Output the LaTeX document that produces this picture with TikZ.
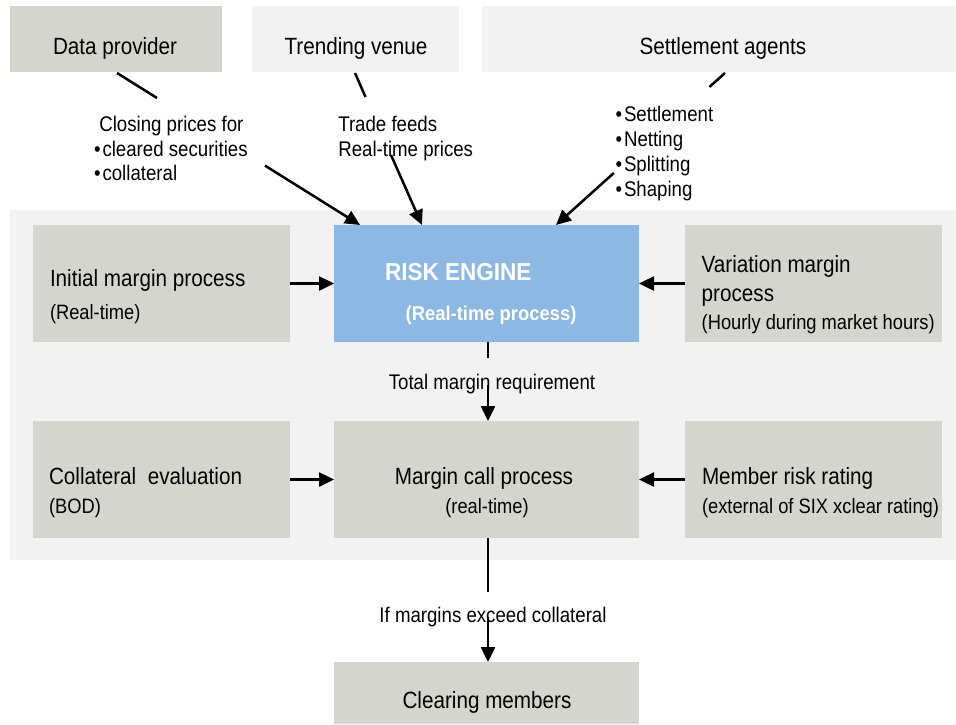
\documentclass[tikz,border=0pt]{standalone}
\usepackage{fontspec}
\setmainfont{Liberation Sans}
\newfontfamily\nfont[FakeStretch=0.88]{Liberation Sans}
\newfontfamily\bnfont[FakeStretch=0.92]{Liberation Sans}
\usetikzlibrary{arrows.meta}
\definecolor{boxgray}{RGB}{213,213,208}
\definecolor{panelgray}{RGB}{242,242,242}
\definecolor{engblue}{RGB}{142,184,228}
\begin{document}
\begin{tikzpicture}[x=1pt,y=-1pt,
  gbox/.style={rectangle, fill=boxgray, inner sep=0pt, outer sep=0pt, anchor=north west},
  lbox/.style={rectangle, fill=panelgray, inner sep=0pt, outer sep=0pt, anchor=north west},
  bbox/.style={rectangle, fill=engblue, inner sep=0pt, outer sep=0pt, anchor=north west},
  ptxt/.style={inner sep=0pt, outer sep=0pt, font=\nfont\fontsize{23.5pt}{28pt}\selectfont, text=black},
  stxt/.style={inner sep=0pt, outer sep=0pt, font=\nfont\fontsize{20.8pt}{25pt}\selectfont, text=black},
  ltxt/.style={inner sep=0pt, outer sep=0pt, font=\nfont\fontsize{21.2pt}{25pt}\selectfont, text=black},
  btxt/.style={inner sep=0pt, outer sep=0pt, font=\bnfont\bfseries\fontsize{24.5pt}{29pt}\selectfont, text=white},
  bstxt/.style={inner sep=0pt, outer sep=0pt, font=\bnfont\bfseries\fontsize{20pt}{24pt}\selectfont, text=white},
  ln/.style={line width=2.5pt, draw=black},
  arr/.style={line width=2.5pt, draw=black, -{Triangle[length=15pt,width=14pt]}}
]
\useasboundingbox (0,0) rectangle (956,724);
\fill[white] (0,0) rectangle (956,724);

% background panel
\node[lbox, minimum width=946pt, minimum height=350pt] (panel) at (10,210) {};

% top boxes
\node[gbox, minimum width=212pt, minimum height=66pt] (dp) at (10,6) {};
\node[lbox, minimum width=207pt, minimum height=66pt] (tv) at (252,6) {};
\node[lbox, minimum width=474pt, minimum height=66pt] (sa) at (482,6) {};

% middle row
\node[gbox, minimum width=257pt, minimum height=117pt] (im) at (33,225) {};
\node[bbox, minimum width=305pt, minimum height=117pt] (re) at (334,225) {};
\node[gbox, minimum width=257pt, minimum height=117pt] (vm) at (685,225) {};

% lower row
\node[gbox, minimum width=257pt, minimum height=117pt] (ce) at (33,421) {};
\node[gbox, minimum width=305pt, minimum height=117pt] (mc) at (334,421) {};
\node[gbox, minimum width=257pt, minimum height=117pt] (mr) at (685,421) {};

% bottom box
\node[gbox, minimum width=305pt, minimum height=62pt] (cm) at (334,662) {};

% texts in boxes
\node[ptxt, anchor=base west] (dpt) at (53,54.3) {Data provider};
\node[ptxt, anchor=base] (tvt) at (356,54.3) {Trending venue};
\node[ptxt, anchor=base] (sat) at (723,54.3) {Settlement agents};

\node[ptxt, anchor=base west] (imt1) at (50,286.7) {Initial margin process};
\node[stxt, anchor=base west] (imt2) at (50,319) {(Real-time)};

\node[btxt, anchor=base west] (ret1) at (385,280) {RISK ENGINE};
\node[bstxt, anchor=base west] (ret2) at (405.7,320.5) {(Real-time process)};

\node[ptxt, anchor=base west] (vmt1) at (701.7,272.7) {Variation margin};
\node[ptxt, anchor=base west] (vmt2) at (701.7,301.7) {process};
\node[stxt, anchor=base west] (vmt3) at (701.7,329.5) {(Hourly during market hours)};

\node[ptxt, anchor=base west] (cet1) at (49,484) {Collateral\ \ evaluation};
\node[stxt, anchor=base west] (cet2) at (49,513) {(BOD)};

\node[ptxt, anchor=base] (mct1) at (484,484) {Margin call process};
\node[stxt, anchor=base] (mct2) at (487,513) {(real-time)};

\node[ptxt, anchor=base west] (mrt1) at (702,484) {Member risk rating};
\node[stxt, anchor=base west] (mrt2) at (702,513) {(external of SIX xclear rating)};

\node[ptxt, anchor=base] (cmt) at (487,708) {Clearing members};

% connector labels
\node[ltxt, anchor=base west] (l1a) at (99.3,131.7) {Closing prices for};
\node[ltxt, anchor=base west] (l1b) at (94,156) {\textbullet\hspace{2pt}cleared securities};
\node[ltxt, anchor=base west] (l1c) at (94,180.5) {\textbullet\hspace{2pt}collateral};

\node[ltxt, anchor=base west] (l2a) at (338.3,131.7) {Trade feeds};
\node[ltxt, anchor=base west] (l2b) at (338.3,156) {Real-time prices};

\node[ltxt, anchor=base west] (l3a) at (615.5,121.7) {\textbullet\hspace{2pt}Settlement};
\node[ltxt, anchor=base west] (l3b) at (615.5,146.7) {\textbullet\hspace{2pt}Netting};
\node[ltxt, anchor=base west] (l3c) at (615.5,171.7) {\textbullet\hspace{2pt}Splitting};
\node[ltxt, anchor=base west] (l3d) at (615.5,196.7) {\textbullet\hspace{2pt}Shaping};

\node[ltxt, anchor=base] (l4) at (492,389) {Total margin requirement};
\node[ltxt, anchor=base] (l5) at (493,622) {If margins exceed collateral};

% connector break points
\coordinate (dpA) at (117,73);
\coordinate (dpB) at (157,98);
\coordinate (dpC) at (265,165.6);
\coordinate (tvA) at (355,73);
\coordinate (tvB) at (365.5,97);
\coordinate (tvC) at (391,155);
\coordinate (saA) at (725,73);
\coordinate (saB) at (709.4,87);
\coordinate (saC) at (613.8,173);
\coordinate (reB) at (488,358);
\coordinate (reC) at (488,385);
\coordinate (mcB) at (488,592);
\coordinate (mcC) at (488,617);

% connectors
\draw[ln] (dpA) -- (dpB);
\draw[arr] (dpC) -- ([xshift=26pt]re.north west);
\draw[ln] (tvA) -- (tvB);
\draw[arr] (tvC) -- ([xshift=88pt]re.north west);
\draw[ln] (saA) -- (saB);
\draw[arr] (saC) -- ([xshift=222pt]re.north west);

\draw[arr] (im.east) -- (re.west);
\draw[arr] (vm.west) -- (re.east);
\draw[arr] (ce.east) -- (mc.west);
\draw[arr] (mr.west) -- (mc.east);

\draw[ln] ([xshift=1.5pt]re.south) -- (reB);
\draw[arr] (reC) -- ([xshift=1.5pt]mc.north);
\draw[ln] ([xshift=1.5pt]mc.south) -- (mcB);
\draw[arr] (mcC) -- ([xshift=1.5pt]cm.north);
\end{tikzpicture}
\end{document}
